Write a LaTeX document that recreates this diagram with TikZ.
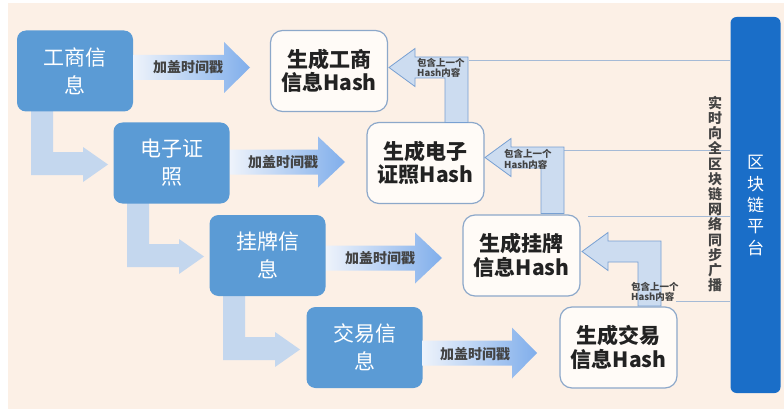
\documentclass[tikz,border=0pt]{standalone}
\usepackage{fontspec}
\setmainfont{Noto Sans CJK SC}
\definecolor{bgc}{RGB}{252,240,230}
\definecolor{boxblue}{RGB}{91,155,213}
\definecolor{platblue}{RGB}{26,110,200}
\definecolor{hashline}{RGB}{140,168,202}
\definecolor{hashfill}{RGB}{255,251,247}
\definecolor{textdark}{RGB}{34,34,34}
\definecolor{bentc}{RGB}{196,215,238}
\definecolor{upfill}{RGB}{204,220,240}
\definecolor{upline}{RGB}{120,160,210}
\definecolor{linec}{RGB}{165,186,214}
\definecolor{tsL}{RGB}{238,243,251}
\definecolor{tsR}{RGB}{128,174,235}
\newcommand\tsarrow[4]{%
  \shade[left color=tsL, right color=tsR] (#1,#4-12.5) -- (#2,#4-12.5) -- (#2,#4-25.5) -- (#3,#4) -- (#2,#4+25.5) -- (#2,#4+12.5) -- (#1,#4+12.5) -- cycle;}
\newcommand\bentarr[2]{%
  \fill[bentc] (#1+14,#2) -- (#1+14,#2+64) -- (#1+66,#2+64) -- (#1+66,#2+71) -- (#1+91,#2+53.5) -- (#1+66,#2+36) -- (#1+66,#2+41) -- (#1+36,#2+41) -- (#1+36,#2) -- cycle;}
\newcommand\uparr[4]{%
  \filldraw[fill=upfill, draw=upline, line width=0.8pt] (#1,#2) -- (#1,#3+21) -- (#1-30,#3+21) -- (#1-30,#3+29.5) -- (#4,#3+10.5) -- (#1-30,#3-8.5) -- (#1-30,#3) -- (#1+23,#3) -- (#1+23,#2) -- cycle;}
\begin{document}
\begin{tikzpicture}[x=1pt,y=-1pt,
  infobox/.style={rounded corners=9pt, fill=boxblue, text=white, minimum width=116pt, minimum height=81pt, align=center, font=\fontsize{21}{28}\selectfont, inner sep=0pt},
  hashbox/.style={rounded corners=12pt, draw=hashline, line width=1.2pt, fill=hashfill, minimum width=117pt, minimum height=81pt, align=center, font=\fontsize{21}{23.5}\selectfont\bfseries, text=textdark, inner sep=0pt},
  tslabel/.style={font=\fontsize{14}{16}\selectfont\bfseries, text=textdark!85, inner sep=0pt},
  small/.style={font=\fontsize{9.5}{10.5}\selectfont\bfseries, text=textdark!85, align=left, inner sep=0pt, anchor=west},
  link/.style={draw=linec, line width=0.9pt}]
\useasboundingbox (0,0) rectangle (784,409);
\fill[white] (0,0) rectangle (784,409);
\fill[bgc] (8,3) rectangle (784,409);

% bent connectors between info boxes
\bentarr{17}{111}
\bentarr{113}{203}
\bentarr{209}{296}

% info boxes
\node[infobox] (i1) at (75,71) {工商信\\息};
\node[infobox] (i2) at (171.5,163) {电子证\\照};
\node[infobox] (i3) at (267.5,255.5) {挂牌信\\息};
\node[infobox] (i4) at (364.5,347.5) {交易信\\息};

% timestamp arrows
\tsarrow{133}{224}{250}{67.5}
\tsarrow{230}{318}{345}{162}
\tsarrow{326}{415}{442}{258}
\tsarrow{422}{512}{537}{353}
\node[tslabel] (t1) at (188,67.5) {加盖时间戳};
\node[tslabel] (t2) at (283,162) {加盖时间戳};
\node[tslabel] (t3) at (380,258) {加盖时间戳};
\node[tslabel] (t4) at (475,354) {加盖时间戳};

% hash boxes
\node[hashbox] (h1) at (329,71) {生成工商\\信息Hash};
\node[hashbox] (h2) at (425.5,163) {生成电子\\证照Hash};
\node[hashbox] (h3) at (521.5,255.5) {生成挂牌\\信息Hash};
\node[hashbox] (h4) at (618.5,347.5) {生成交易\\信息Hash};

% platform
\node[rounded corners=6pt, fill=platblue, minimum width=50pt, minimum height=376pt, inner sep=0pt] (p) at (755.5,205) {};
\node[text=white, align=center, font=\fontsize{17}{21.3}\selectfont, inner sep=0pt] (pt) at (755.5,205.5) {区\\块\\链\\平\\台};

% broadcast lines
\coordinate (l1) at (469,60);
\coordinate (l2) at (564,150);
\coordinate (l3) at (588,216);
\coordinate (l4) at (676,301);
\draw[link] (l1) -- (l1 -| p.west);
\draw[link] (l2) -- (l2 -| p.west);
\draw[link] (l3) -- (l3 -| p.west);
\draw[link] (l4) -- (l4 -| p.west);

\node[font=\fontsize{14}{15.2}\selectfont\bfseries, text=textdark!85, align=center, inner sep=0pt] (bc) at (715,194) {实\\时\\向\\全\\区\\块\\链\\网\\络\\同\\步\\广\\播};

% up arrows (previous hash)
\uparr{445}{122.5}{57}{389}
\uparr{541}{213.5}{147}{485}
\uparr{638}{306}{241}{582}
\node[small] (s1) at (417,68) {包含上一个\\Hash内容};
\node[small] (s2) at (504,159.5) {包含上一个\\Hash内容};
\node[small] (s3) at (631,292) {包含上一个\\Hash内容};
\end{tikzpicture}
\end{document}
